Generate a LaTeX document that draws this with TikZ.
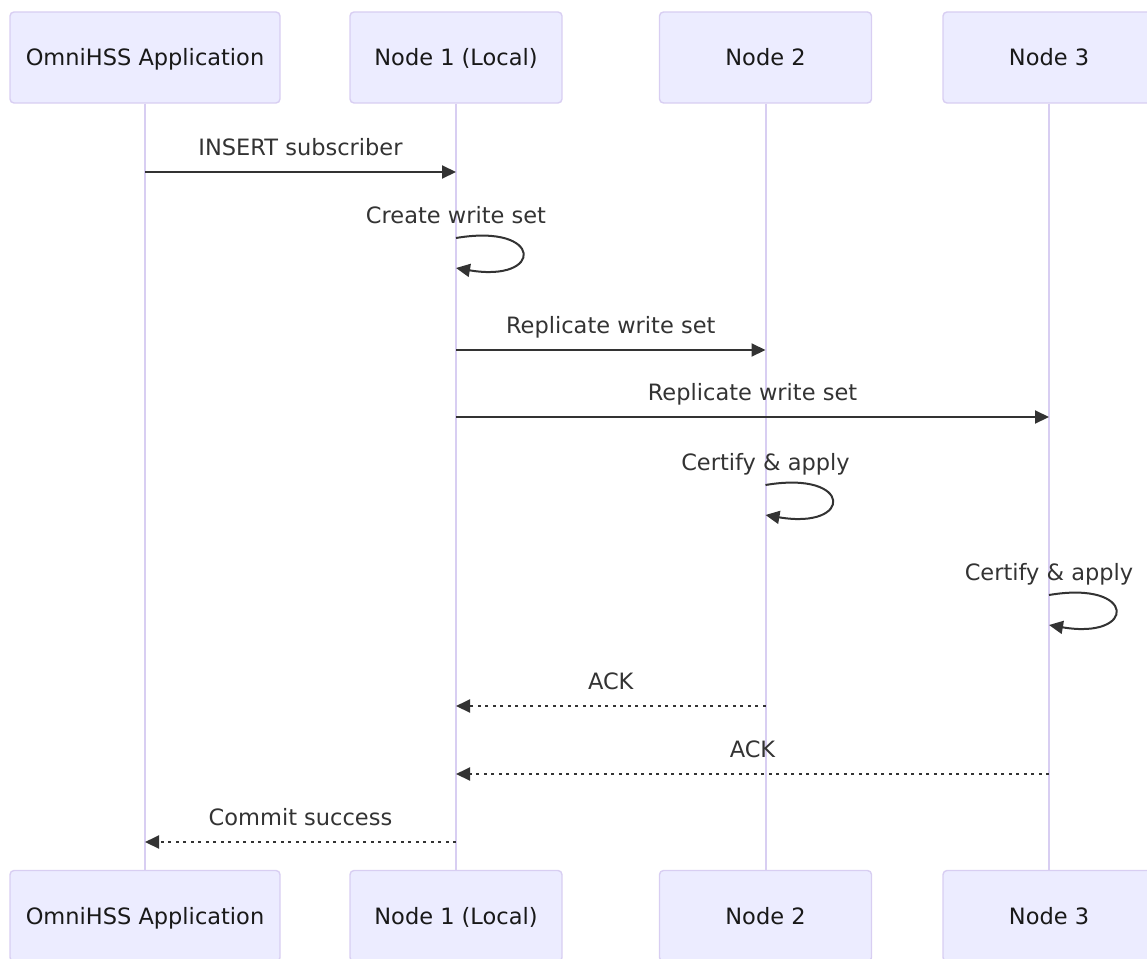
\documentclass[tikz,border=0pt]{standalone}
\usepackage{fontspec}
\setmainfont{DejaVu Sans}
\usepackage{xcolor}
\usepackage{tikz}
\usetikzlibrary{arrows.meta,positioning,calc}
\definecolor{actorfill}{HTML}{ECECFF}
\definecolor{actorline}{HTML}{D8CEF2}
\definecolor{msgdark}{HTML}{333333}
\tikzset{
  actor/.style    = {rectangle, rounded corners=4pt, draw=actorline, fill=actorfill,
                     line width=1.4pt, minimum height=91pt, align=center,
                     text height=17pt, text depth=0pt,
                     font=\fontsize{22.5}{27}\selectfont, text=black!90},
  lifeline/.style = {draw=actorline, line width=2pt},
  msg/.style      = {-{Triangle[length=14pt,width=13pt]}, line width=2pt, draw=msgdark},
  reply/.style    = {msg, dash pattern=on 3pt off 4.5pt},
  msglabel/.style = {anchor=base, inner sep=0pt, text=msgdark,
                     font=\fontsize{22.5}{27}\selectfont},
}
\begin{document}
\begin{tikzpicture}[x=1pt, y=-1pt]
\useasboundingbox (0,0) rectangle (1147,958);
\clip (0,0) rectangle (1147,958);

% Actors (top)
\node[actor, minimum width=270pt] (app) at (145,57.5) {OmniHSS Application};
\node[actor, minimum width=212pt] (one) at (456,57.5) {Node 1 (Local)};
\node[actor, minimum width=212pt] (two) at (765.5,57.5) {Node 2};
\node[actor, minimum width=212pt] (three) at (1049,57.5) {Node 3};

% Actors (bottom)
\node[actor, minimum width=270pt] (appB) at (145,916) {OmniHSS Application};
\node[actor, minimum width=212pt] (oneB) at (456,916) {Node 1 (Local)};
\node[actor, minimum width=212pt] (twoB) at (765.5,916) {Node 2};
\node[actor, minimum width=212pt] (threeB) at (1049,916) {Node 3};

% Lifelines
\draw[lifeline] (app.south) -- (appB.north);
\draw[lifeline] (one.south) -- (oneB.north);
\draw[lifeline] (two.south) -- (twoB.north);
\draw[lifeline] (three.south) -- (threeB.north);

% message rows
\coordinate (r1) at (0,172);
\coordinate (r2) at (0,238);
\coordinate (r2e) at (0,268);
\coordinate (r3) at (0,350);
\coordinate (r4) at (0,417);
\coordinate (r5) at (0,485);
\coordinate (r5e) at (0,515);
\coordinate (r6) at (0,595);
\coordinate (r6e) at (0,625);
\coordinate (r7) at (0,706);
\coordinate (r8) at (0,774);
\coordinate (r9) at (0,842);

% App -> Node 1
\draw[msg] (app |- r1) -- node[msglabel, yshift=17pt] (m1) {INSERT subscriber} (one |- r1);

% Node 1 self
\draw[msg] (one |- r2) .. controls +(88,-15) and +(88,15) .. (one |- r2e);
\node[msglabel] (m2) at ($(one |- r2)+(0,-15)$) {Create write set};

% Node 1 -> Node 2, Node 3
\draw[msg] (one |- r3) -- node[msglabel, yshift=17pt] (m3) {Replicate write set} (two |- r3);
\draw[msg] (one |- r4) -- node[msglabel, yshift=17pt] (m4) {Replicate write set} (three |- r4);

% Certify on Node 2, Node 3
\draw[msg] (two |- r5) .. controls +(88,-15) and +(88,15) .. (two |- r5e);
\node[msglabel] (m5) at ($(two |- r5)+(0,-15)$) {Certify \& apply};
\draw[msg] (three |- r6) .. controls +(88,-15) and +(88,15) .. (three |- r6e);
\node[msglabel] (m6) at ($(three |- r6)+(0,-15)$) {Certify \& apply};

% Replies
\draw[reply] (two |- r7) -- node[msglabel, yshift=17pt] (m7) {ACK} (one |- r7);
\draw[reply] (three |- r8) -- node[msglabel, yshift=17pt] (m8) {ACK} (one |- r8);
\draw[reply] (one |- r9) -- node[msglabel, yshift=17pt] (m9) {Commit success} (app |- r9);

\end{tikzpicture}
\end{document}
